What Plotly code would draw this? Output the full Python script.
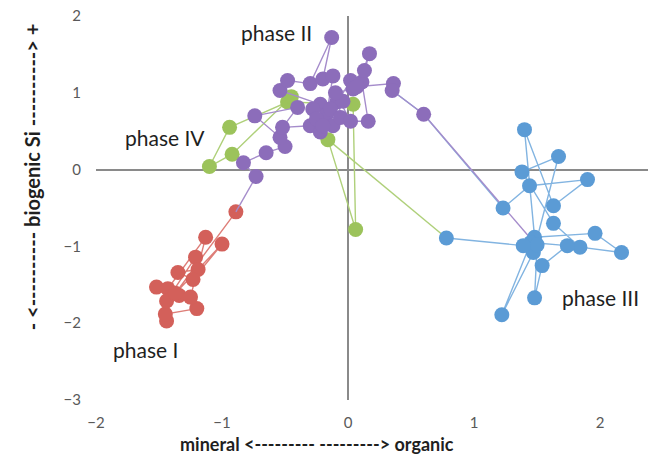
import plotly.graph_objects as go

# ---- data ----
phase1_x = [-1.44, -1.45, -1.20, -1.34, -1.52, -1.43, -1.13, -1.25, -1.44, -1.21, -1.19, -1.35, -1.23, -1.00, -1.37, -0.89]
phase1_y = [-1.97, -1.88, -1.81, -1.64, -1.53, -1.55, -0.88, -1.66, -1.71, -1.14, -1.30, -1.34, -1.43, -0.97, -1.61, -0.55]

phase2_x = [-0.73, -0.83, -0.65, -0.50, -0.54, -0.74, -0.40, -0.52, -0.30, -0.22, -0.54, -0.48, -0.30, -0.13,
            -0.20, -0.12, -0.17, -0.28, -0.22, -0.09, -0.25, -0.12, -0.04, -0.14, -0.06, -0.20, 0.02, 0.04,
            -0.10, 0.02, 0.16, 0.11, 0.13, 0.17, 0.07, 0.36, 0.35, 0.60]
phase2_y = [-0.09, 0.09, 0.22, 0.30, 0.42, 0.70, 0.81, 0.55, 0.57, 0.85, 1.03, 1.16, 1.12, 1.72,
            1.18, 1.22, 0.72, 0.79, 0.49, 0.88, 0.66, 0.57, 0.89, 0.79, 0.68, 0.57, 1.16, 1.05,
            1.00, 0.63, 0.63, 1.14, 1.29, 1.51, 1.08, 1.12, 1.03, 0.72]

phase3_x = [1.23, 1.44, 1.90, 1.63, 1.40, 1.48, 1.96, 2.17, 1.84, 1.63, 1.38, 1.67, 1.47, 1.22, 1.45,
            1.74, 1.54, 1.48, 1.50, 1.39, 0.78]
phase3_y = [-0.50, -0.21, -0.13, -0.47, 0.52, -0.88, -0.83, -1.08, -1.01, -0.70, -0.03, 0.17, -1.08, -1.89, -0.95,
            -0.99, -1.25, -1.67, -0.98, -0.99, -0.89]

phase4_x = [-0.16, 0.06, 0.04, -0.48, -0.94, -1.10, -0.92, -0.45]
phase4_y = [0.39, -0.78, 0.85, 0.88, 0.55, 0.04, 0.20, 0.95]

# links between consecutive phases (line segments only)
link12_x = [-0.89, -0.73]
link12_y = [-0.55, -0.09]
link23_x = [0.60, 1.45]
link23_y = [0.72, -0.90]
link3s_x = [0.35, 0.60, 1.23]
link3s_y = [1.03, 0.72, -0.50]
link34_x = [0.78, -0.16]
link34_y = [-0.89, 0.39]

x_ticks = [-2, -1, 0, 1, 2]
y_ticks = [-3, -2, -1, 0, 1, 2]

labels = ["phase I", "phase II", "phase III", "phase IV"]
label_x = [-1.61, -0.57, 2.0, -1.45]
label_y = [-2.34, 1.78, -1.67, 0.42]

x_title = "mineral &lt;--------- ---------&gt; organic"
y_title = "- &lt;---------- biogenic Si ----------&gt; +"

RED = "#D3605A"
PURPLE = "#8C6DBA"
BLUE = "#5B9BD5"
GREEN = "#9CC35B"
RED_L = "#DE7E78"
PURPLE_L = "#A58CCB"
BLUE_L = "#82B4E1"
GREEN_L = "#AFD07A"

MS = 15
LW = 1.4
FONT = "Lato"

fig = go.Figure()

def line_only(x, y, c):
    fig.add_trace(go.Scatter(x=x, y=y, mode="lines", line=dict(color=c, width=LW),
                             hoverinfo="skip", showlegend=False))

def series(x, y, c, lc, name):
    fig.add_trace(go.Scatter(x=x, y=y, mode="lines+markers", name=name,
                             line=dict(color=lc, width=LW),
                             marker=dict(color=c, size=MS, line=dict(width=0)),
                             showlegend=False))

line_only(link34_x, link34_y, GREEN_L)
series(phase4_x, phase4_y, GREEN, GREEN_L, "phase IV")
series(phase1_x, phase1_y, RED, RED_L, "phase I")
line_only(link3s_x, link3s_y, BLUE_L)
line_only(link12_x, link12_y, PURPLE_L)
line_only(link23_x, link23_y, PURPLE_L)
series(phase2_x, phase2_y, PURPLE, PURPLE_L, "phase II")
series(phase3_x, phase3_y, BLUE, BLUE_L, "phase III")

for t, x, y in zip(labels, label_x, label_y):
    fig.add_annotation(x=x, y=y, text=t, showarrow=False,
                       font=dict(family=FONT, size=21, color="#1f1f1f"))

fig.add_annotation(x=-0.25, xref="x", y=0, yref="paper", yshift=-44, yanchor="middle",
                   text="<b>" + x_title + "</b>", showarrow=False,
                   font=dict(family=FONT, size=18, color="#1f1f1f"))
fig.add_annotation(x=0, xref="paper", xshift=-78, y=-0.1, yref="y",
                   text="<b>" + y_title + "</b>", showarrow=False,
                   textangle=-90, font=dict(family=FONT, size=20, color="#1f1f1f"))

fig.update_layout(
    width=654, height=455,
    margin=dict(l=96, r=6, t=16, b=55),
    paper_bgcolor="white", plot_bgcolor="white",
    xaxis=dict(range=[-2, 2.38], tickvals=x_ticks, showgrid=False, zeroline=True,
               zerolinecolor="#8a8a8a", zerolinewidth=1.5, showline=False, ticks="",
               ticklabelstandoff=12,
               tickfont=dict(family=FONT, size=15, color="#595959")),
    yaxis=dict(range=[-3, 2], tickvals=y_ticks, showgrid=False, zeroline=True,
               zerolinecolor="#8a8a8a", zerolinewidth=1.5, showline=False, ticks="",
               ticklabelstandoff=14,
               tickfont=dict(family=FONT, size=15, color="#595959")),
)

fig.write_html("out.html", config={"displayModeBar": False},
               post_script="document.body.style.margin='0';")
